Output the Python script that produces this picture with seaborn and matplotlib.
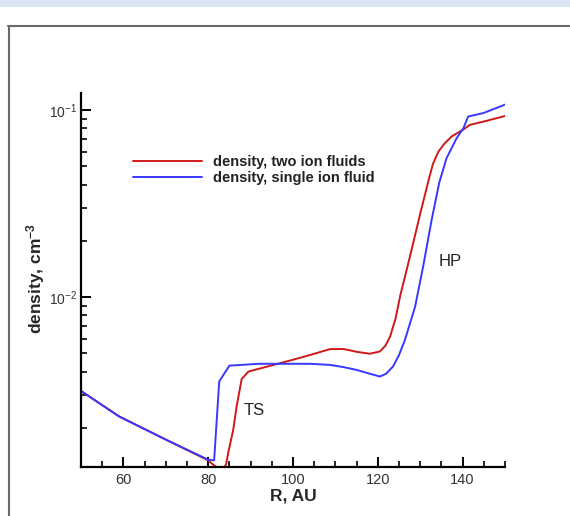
import numpy as np
import pandas as pd
import seaborn as sns
import matplotlib
matplotlib.use("Agg")
from matplotlib import pyplot as plt
from matplotlib.lines import Line2D
from matplotlib.patches import Rectangle
from matplotlib.ticker import MultipleLocator, LogLocator, NullFormatter

#%% data

r_two = [50, 59, 70, 80, 81, 82.4, 83.5, 84.2, 84.8, 85.9, 86.7, 87.9, 89.5,
         99.3, 104, 108.7, 111.9, 115, 118.1, 120.5, 121.8, 122.9, 124.2,
         125.3, 127.7, 130.0, 132.0, 133.0, 134.3, 135.8, 137.5, 140.1, 141.7,
         145.7, 150]
n_two = [0.00315, 0.0023, 0.00173, 0.00134, 0.00128, 0.00121, 0.00121, 0.00127,
         0.0015, 0.00195, 0.0026, 0.00365, 0.0040,
         0.00458, 0.0049, 0.00527, 0.00528, 0.0051, 0.00498, 0.00512, 0.0055,
         0.00615, 0.0077, 0.0102, 0.0169, 0.0279, 0.0424, 0.0515, 0.0600,
         0.0665, 0.0725, 0.0785, 0.0834, 0.0877, 0.0930]

r_one = [50, 59, 70, 80, 81.4, 82.6, 85.0, 92, 100, 104, 108.7, 112, 115, 118,
         120.5, 122, 123.6, 125, 126.4, 128.8, 130.7, 132.7, 134.5, 136.2,
         138.6, 140.2, 141.3, 144.9, 150]
n_one = [0.00315, 0.0023, 0.00173, 0.00135, 0.00134, 0.00354, 0.0043, 0.0044,
         0.0044, 0.0044, 0.00434, 0.00422, 0.00408, 0.0039, 0.00376, 0.0039,
         0.00426, 0.0049, 0.0059, 0.0089, 0.0146, 0.0259, 0.041, 0.0553,
         0.0708, 0.0801, 0.0924, 0.0964, 0.1070]

two = pd.DataFrame({'R': r_two, 'density': n_two})
one = pd.DataFrame({'R': r_one, 'density': n_one})

#%% plot

sns.set_style('ticks')
plt.rcParams['font.family'] = ['Liberation Sans', 'DejaVu Sans']
plt.rcParams['mathtext.default'] = 'regular'

fig = plt.figure(figsize=(5.7, 5.16), dpi=100)
ax = fig.add_axes([81/570, 1 - 467.3/516, 424/570, 374/516])

sns.lineplot(data=two, x='R', y='density', color='#d01818', lw=1.4,
             label='density, two ion fluids', ax=ax)
sns.lineplot(data=one, x='R', y='density', color='#3838ff', lw=1.4,
             label='density, single ion fluid', ax=ax)

ax.set_yscale('log')
ax.set_xlim(50, 150)
ax.set_ylim(0.00123, 0.123)
ax.xaxis.set_major_locator(MultipleLocator(20))
ax.xaxis.set_minor_locator(MultipleLocator(5))
ax.yaxis.set_minor_locator(LogLocator(base=10, subs=np.arange(2, 10)))
ax.yaxis.set_minor_formatter(NullFormatter())

sns.despine(ax=ax)
for s in ['left', 'bottom']:
    ax.spines[s].set_linewidth(1.6)
    ax.spines[s].set_color('black')
ax.tick_params(which='major', direction='in', length=7, width=1.4,
               labelsize=10.5, pad=4, colors='black', labelcolor='#333333')
ax.tick_params(axis='y', which='major', labelsize=10, pad=3)
ax.tick_params(which='minor', direction='in', length=4.5, width=1.2,
               colors='black')

ax.set_xlabel('R, AU', fontsize=12.5, fontweight='bold', labelpad=1)
ax.set_ylabel('density, cm$^{-3}$', fontsize=12.5, fontweight='bold')
ax.yaxis.set_label_coords(-0.08, 0.505)

ax.text(90.9, 0.00247, 'TS', fontsize=12, ha='center', va='center',
        color='#222222')
ax.text(137.0, 0.0155, 'HP', fontsize=12, ha='center', va='center',
        color='#222222')

leg = ax.legend(loc='upper left', bbox_to_anchor=(0.1226, 0.835),
                frameon=False, fontsize=10.5, handlelength=4.7,
                labelspacing=0.15, borderpad=0, borderaxespad=0,
                handletextpad=0.8)
for t in leg.get_texts():
    t.set_fontweight('bold')
    t.set_color('#222222')

# page frame around the chart
fig.add_artist(Rectangle((0, 1 - 7/516), 1, 7/516, transform=fig.transFigure,
                         color='#dce6f2', lw=0))
fig.add_artist(Line2D([8/570, 1], [1 - 25.5/516] * 2, transform=fig.transFigure,
                      color='#6a6a6a', lw=1.5))
fig.add_artist(Line2D([8.5/570] * 2, [0, 1 - 25.5/516], transform=fig.transFigure,
                      color='#6a6a6a', lw=1.5))

fig.savefig('out.png', dpi=100)
